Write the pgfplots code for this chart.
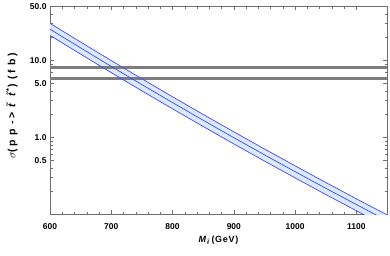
\documentclass[border=0pt]{standalone}
\usepackage{pgfplots}
\pgfplotsset{compat=1.18}
\usepgfplotslibrary{fillbetween}
\usepackage{fontspec}
\setmainfont{Liberation Sans}
\definecolor{bandfill}{RGB}{218,234,255}
\definecolor{bandline}{RGB}{70,70,250}
\definecolor{hline}{RGB}{125,125,125}
\definecolor{frame}{RGB}{110,110,110}
\begin{document}
\begin{tikzpicture}
\begin{axis}[
  at={(0,0)}, anchor=south west,
  scale only axis, width=337bp, height=208bp,
  ymode=log,
  xmin=600, xmax=1150, ymin=0.1, ymax=50,
  xtick={600,700,800,900,1000,1100},
  minor x tick num=4,
  ytick={0.5,1,5,10,50},
  yticklabels={0.5,1.0,5.0,10.0,50.0},
  minor ytick={0.2,0.3,0.4,0.6,0.7,0.8,0.9,2,3,4,6,7,8,9,20,30,40},
  /pgf/number format/assume math mode=true,
  xticklabel style={/pgf/number format/1000 sep={}, yshift=-6bp},
  tick label style={font=\bfseries\fontsize{8.5}{9}\selectfont, text=black},
  tick align=inside,
  major tick length=4bp, minor tick length=2.5bp,
  every tick/.style={frame, line width=0.4bp},
  axis line style={frame, line width=0.5bp},
  xlabel={\addfontfeature{LetterSpace=8}\textit{M}\textsubscript{\textit{\~{t}}}\,(GeV)},
  ylabel={\addfontfeature{LetterSpace=20}$\sigma$(p p -{}> \textit{\~{t}} \textit{\~{t}}\textsuperscript{*}) (f b)},
  xlabel style={font=\bfseries\fontsize{9}{10}\selectfont, at={(axis description cs:0.5,0)}, anchor=center, yshift=-26bp},
  ylabel style={font=\bfseries\fontsize{10.5}{12}\selectfont, at={(axis description cs:0,0.52)}, anchor=center, yshift=38bp},
]
\addplot[name path=up, draw=none, forget plot] coordinates {
(600,30.11) (625,22.73) (650,17.18) (675,13.02) (700,9.89) (725,7.52) (750,5.74) (775,4.38) (800,3.35) (825,2.57) (850,1.98) (875,1.524) (900,1.176) (925,0.910) (950,0.704) (975,0.548) (1000,0.426) (1025,0.332) (1050,0.259) (1075,0.203) (1100,0.159) (1125,0.125) (1150,0.0988)};
\addplot[name path=lo, draw=none, forget plot] coordinates {
(600,21.00) (625,15.85) (650,11.99) (675,9.08) (700,6.90) (725,5.25) (750,4.00) (775,3.057) (800,2.340) (825,1.795) (850,1.380) (875,1.063) (900,0.820) (925,0.634) (950,0.491) (975,0.382) (1000,0.297) (1025,0.2317) (1050,0.1809) (1075,0.1418) (1100,0.1112) (1125,0.0874) (1150,0.0689)};
\addplot[bandfill, forget plot] fill between[of=up and lo];
\addplot[hline, line width=2.6bp] coordinates {(600,8.0) (1150,8.0)};
\addplot[hline, line width=2.6bp] coordinates {(600,5.8) (1150,5.8)};
\addplot[bandline, line width=0.7bp] coordinates {
(600,30.11) (625,22.73) (650,17.18) (675,13.02) (700,9.89) (725,7.52) (750,5.74) (775,4.38) (800,3.35) (825,2.57) (850,1.98) (875,1.524) (900,1.176) (925,0.910) (950,0.704) (975,0.548) (1000,0.426) (1025,0.332) (1050,0.259) (1075,0.203) (1100,0.159) (1125,0.125) (1150,0.0988)};
\addplot[bandline, line width=0.7bp] coordinates {
(600,25.30) (625,19.10) (650,14.44) (675,10.94) (700,8.31) (725,6.32) (750,4.82) (775,3.683) (800,2.819) (825,2.163) (850,1.663) (875,1.280) (900,0.988) (925,0.764) (950,0.592) (975,0.460) (1000,0.358) (1025,0.279) (1050,0.218) (1075,0.171) (1100,0.134) (1125,0.1053) (1150,0.0830)};
\addplot[bandline, line width=0.7bp] coordinates {
(600,21.00) (625,15.85) (650,11.99) (675,9.08) (700,6.90) (725,5.25) (750,4.00) (775,3.057) (800,2.340) (825,1.795) (850,1.380) (875,1.063) (900,0.820) (925,0.634) (950,0.491) (975,0.382) (1000,0.297) (1025,0.2317) (1050,0.1809) (1075,0.1418) (1100,0.1112) (1125,0.0874) (1150,0.0689)};
\end{axis}
\path (-50bp,-41bp) rectangle (340bp,214bp);
\end{tikzpicture}
\end{document}
